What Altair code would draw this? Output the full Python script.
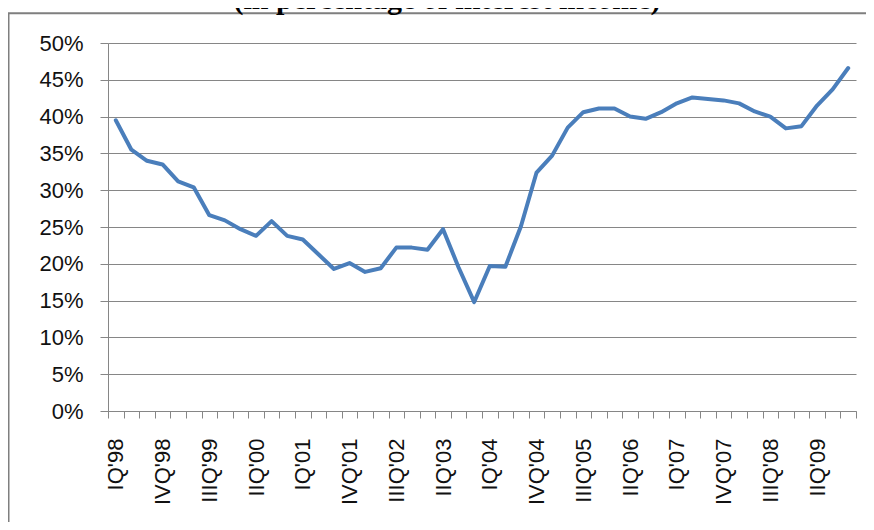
import json
import altair as alt
import pandas as pd

# ---- data -------------------------------------------------------------
title_text = "(in percentage of interest income)"

years = ["98", "99", "00", "01", "02", "03", "04", "05", "06", "07", "08", "09"]
quarter_names = ["IQ", "IIQ", "IIIQ", "IVQ"]
quarters = [q + "'" + y for y in years for q in quarter_names]

values = [
    39.5, 35.5, 34.0, 33.5, 31.2, 30.4, 26.6, 25.9, 24.7, 23.8, 25.8, 23.8,
    23.3, 21.3, 19.3, 20.1, 18.9, 19.4, 22.2, 22.2, 21.9, 24.7, 19.5, 14.8,
    19.7, 19.6, 25.1, 32.4, 34.7, 38.5, 40.6, 41.1, 41.1, 40.0, 39.7, 40.6,
    41.8, 42.6, 42.4, 42.2, 41.8, 40.7, 40.0, 38.4, 38.7, 41.5, 43.7, 46.6,
]

y_ticks = [0, 5, 10, 15, 20, 25, 30, 35, 40, 45, 50]
label_step = 3

# ---- tables -----------------------------------------------------------
df = pd.DataFrame({
    "idx": list(range(len(quarters))),
    "quarter": quarters,
    "value": [v / 100 for v in values],
})
title_df = pd.DataFrame({"t": [title_text]})

n = len(quarters)
label_positions = list(range(0, n, label_step))
boundaries = [i - 0.5 for i in range(n + 1)]
x_values = sorted(boundaries + label_positions)

label_expr = (
    "datum.value % 1 === 0 ? " + json.dumps(quarters) + "[datum.value] : ''"
)

GRAY = "#868686"
FONT = "Liberation Sans"

x_enc = alt.X(
    "idx:Q",
    scale=alt.Scale(domain=[-0.5, n - 0.5], nice=False, zero=False),
    axis=alt.Axis(
        title=None,
        values=x_values,
        labelExpr=label_expr,
        labelAngle=-90,
        labelFont=FONT,
        labelFontSize=22,
        labelColor="#111111",
        labelPadding=20,
        labelOverlap=False,
        labelFlush=False,
        labelBound=False,
        tickSize=7,
        tickColor=GRAY,
        tickOpacity={"condition": {"test": "datum.value % 1 === 0", "value": 0}, "value": 1},
        domainColor=GRAY,
        grid=False,
    ),
)

y_enc = alt.Y(
    "value:Q",
    scale=alt.Scale(domain=[0, 0.5], nice=False),
    axis=alt.Axis(
        title=None,
        values=[v / 100 for v in y_ticks],
        format=".0%",
        labelFont=FONT,
        labelFontSize=22,
        labelColor="#111111",
        labelPadding=17,
        tickSize=8,
        tickColor=GRAY,
        domainColor=GRAY,
        grid=True,
        gridColor=GRAY,
        gridWidth=1,
    ),
)

line = alt.Chart(df).mark_line(
    color="#4a7ebb", strokeWidth=4, strokeJoin="round", strokeCap="round"
).encode(x=x_enc, y=y_enc)

frame = alt.Chart(title_df).mark_rect(
    fillOpacity=0, stroke="#7f7f7f", strokeWidth=2
).encode(
    x=alt.value(-99.5), x2=alt.value(900),
    y=alt.value(-29.8), y2=alt.value(700),
)

title = alt.Chart(title_df).mark_text(
    font="Liberation Serif", fontSize=30, fontWeight="bold",
    align="center", baseline="alphabetic", color="#000000",
).encode(
    x=alt.value(339), y=alt.value(-34.5), text="t:N"
)

chart = alt.layer(frame, title, line).properties(
    width=748,
    height=368,
    autosize=alt.AutoSizeParams(type="none"),
    padding={"left": 100, "top": 35, "right": 10, "bottom": 111},
).configure_view(strokeWidth=0)

chart.save("out.html", embed_options={"renderer": "svg", "actions": False})
